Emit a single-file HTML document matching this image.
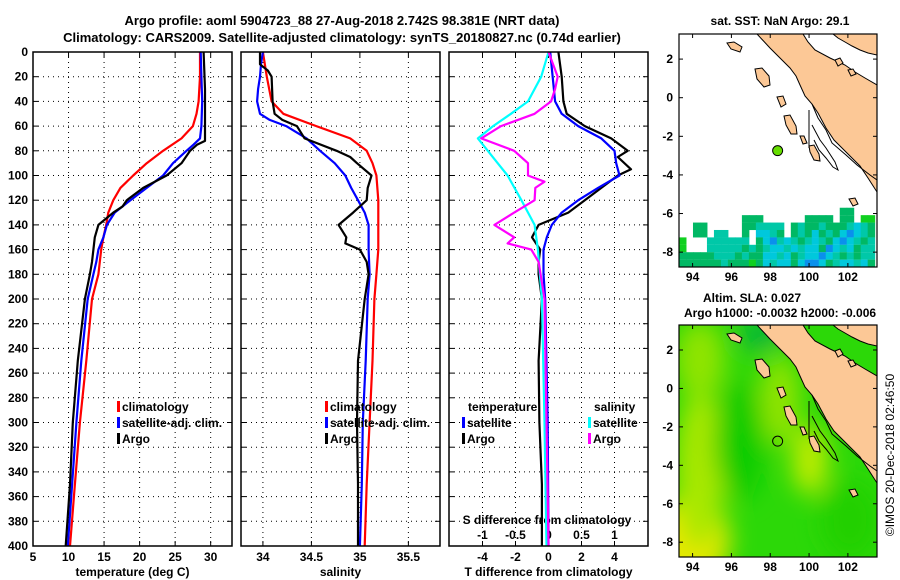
<!DOCTYPE html>
<html><head><meta charset="utf-8">
<style>
html,body{margin:0;padding:0;background:#fff;}
svg{display:block;font-family:"Liberation Sans",Arial,sans-serif;font-weight:bold;}
text{font-size:12px;fill:#000;}
</style></head>
<body>
<svg id="chart" width="900" height="580" viewBox="0 0 900 580" xmlns="http://www.w3.org/2000/svg">
<text x="342" y="25" text-anchor="middle" style="font-size:13px">Argo profile: aoml 5904723_88 27-Aug-2018 2.742S 98.381E (NRT data)</text>
<text x="342" y="42" text-anchor="middle" style="font-size:13px">Climatology: CARS2009. Satellite-adjusted climatology: synTS_20180827.nc (0.74d earlier)</text>
<g id="panels"></g>
<g id="maps"></g>
<text transform="translate(894,455) rotate(-90)" text-anchor="middle" style="font-weight:normal;font-size:12px">©IMOS 20-Dec-2018 02:46:50</text>
</svg>
<script>
// ---------- data ----------
const depthTicks = [0,20,40,60,80,100,120,140,160,180,200,220,240,260,280,300,320,340,360,380,400];
const tempTicks = [5,10,15,20,25,30];
const salTicks = [34,34.5,35,35.5];
const salTickLabels = ["34","34.5","35","35.5"];
const tdiffTicks = [-4,-2,0,2,4];
const sdiffTicks = [-1,-0.5,0,0.5,1];
const sdiffTickLabels = ["-1","-0.5","0","0.5","1"];

const tClimDepth = [0,20,40,50,60,70,80,90,100,110,120,130,140,150,160,180,200,250,300,350,400];
const tClimVal   = [28.5,28.5,28.3,28.0,27.5,25.9,23.3,21.0,19.1,17.3,16.3,15.6,15.3,14.9,14.6,14.2,13.3,12.5,11.6,10.9,10.2];
const tSatDepth = [0,20,40,60,70,75,80,90,100,110,120,130,140,150,160,170,180,200,250,300,350,400];
const tSatVal   = [28.6,28.7,28.8,28.7,28.5,27.6,26.6,24.7,23.3,21.0,18.7,16.5,15.4,14.9,14.2,13.9,13.5,12.7,11.8,11.1,10.5,9.9];
const tArgoDepth = [0,30,60,72,75,80,90,100,110,120,125,130,140,150,160,170,180,200,250,300,350,400];
const tArgoVal   = [29.0,29.2,29.2,29.2,28.1,27.1,25.9,23.8,20.5,18.2,17.6,16.3,14.2,13.7,13.5,13.3,13.0,12.3,11.3,10.6,10.2,9.6];

const sClimDepth = [0,20,40,50,60,70,80,90,100,120,140,160,180,200,250,300,350,400];
const sClimVal   = [34.0,34.04,34.09,34.21,34.55,34.9,35.07,35.13,35.17,35.19,35.19,35.19,35.17,35.15,35.13,35.1,35.07,35.05];
const sSatDepth = [0,10,20,30,40,50,55,60,70,80,90,100,110,120,130,140,160,180,200,250,300,350,400];
const sSatVal   = [34.0,33.98,33.97,33.95,33.94,33.97,34.07,34.24,34.45,34.59,34.74,34.85,34.91,34.98,35.05,35.09,35.09,35.1,35.08,35.06,35.03,35.02,35.0];
const sArgoDepth = [0,10,15,20,40,50,55,60,70,80,85,90,100,110,120,130,140,150,155,160,170,180,200,250,300,350,400];
const sArgoVal   = [33.97,33.97,34.05,34.09,34.1,34.12,34.2,34.35,34.43,34.76,34.9,34.97,35.12,35.08,35.07,34.93,34.78,34.86,34.85,35.0,35.07,35.09,35.05,34.98,34.97,34.98,34.98];

const dTArgoDepth = [0,20,40,50,60,70,80,85,95,100,110,120,130,140,150,160,170,180,200,250,300,350,400];
const dTArgoVal   = [0.6,0.8,0.9,1.1,2.2,3.8,4.8,4.2,5.0,4.2,3.2,2.2,1.2,-0.6,-1.0,-0.5,-0.6,-0.6,-0.4,-0.6,-0.55,-0.4,-0.4];
const dTSatDepth = [0,40,50,60,70,80,90,100,110,120,130,140,150,160,180,200,300,400];
const dTSatVal   = [0.1,0.4,0.8,1.8,3.2,4.0,4.1,4.3,3.0,1.8,0.8,0.2,-0.1,-0.3,-0.3,-0.2,-0.05,0];
const dSSatDepth = [0,20,40,50,60,70,80,90,100,120,140,160,200,300,400];
const dSSatVal   = [0.0,-0.11,-0.31,-0.57,-0.84,-1.07,-0.92,-0.77,-0.62,-0.41,-0.21,-0.16,-0.1,-0.06,-0.03];
const dSArgoDepth = [0,20,30,40,50,60,70,80,90,100,105,110,120,130,140,150,155,160,170,200,300,400];
const dSArgoVal   = [0,0.14,0.1,0.04,-0.21,-0.72,-1.02,-0.52,-0.31,-0.31,-0.06,-0.2,-0.21,-0.52,-0.82,-0.52,-0.62,-0.26,-0.15,-0.06,-0.03,0];

const argoLon = [98.381];
const argoLat = [-2.742];
const lonTicks = [94,96,98,100,102];
const latTicks = [2,0,-2,-4,-6,-8];
const sstRows = [
".......................gg...",
".........ggg......gggg.gg.GG",
"..gg.....ggtttt.gtggtgggtctg",
"..gg.tt..g.cctg.gtgcgtgcbctg",
"G...tttttt.gcbtctgtctgcbctgt",
"G...tttttgtgtcctctccgbctcgtt",
"gggggtttgtggcctcgtccbctgtgtt",
"ggggggtgggGgctccgcbbcgtcctcg"
];

const NS="http://www.w3.org/2000/svg";
const P=document.getElementById('panels');
function el(tag,attrs,parent){const e=document.createElementNS(NS,tag);for(const k in attrs)e.setAttribute(k,attrs[k]);(parent||P).appendChild(e);return e;}

const Y0=52,Y1=546;
function yDepth(d){return Y0+(d/400)*(Y1-Y0);}
function makeX(x0,x1,v0,v1){return v=>x0+(v-v0)/(v1-v0)*(x1-x0);}

const panels=[
 {x0:33,x1:232,xs:makeX(33,232,5,33),ticks:tempTicks,labels:tempTicks.map(String),title:"temperature (deg C)",name:"temperature"},
 {x0:241,x1:440,xs:makeX(241,440,33.774,35.826),ticks:salTicks,labels:salTickLabels,title:"salinity",name:"salinity"},
 {x0:449,x1:648,xs:makeX(449,648,-6.03,6.03),ticks:tdiffTicks,labels:tdiffTicks.map(String),title:"T difference from climatology",name:"difference"}
];

function line(xs,depths,vals,color,name,g){
  const pts=depths.map((d,i)=>xs(vals[i]).toFixed(1)+","+yDepth(d).toFixed(1)).join(" ");
  const p=el('polyline',{points:pts,fill:"none",stroke:color,"stroke-width":2.2,"stroke-linejoin":"round"},g);
  
  
}

panels.forEach((pn,pi)=>{
  const g=el('g',{});
  
  
  el('rect',{x:pn.x0,y:Y0,width:pn.x1-pn.x0,height:Y1-Y0,fill:"#fff",stroke:"none"},g);
  depthTicks.forEach(d=>{
    if(d>0&&d<400){const gl=el('line',{x1:pn.x0,x2:pn.x1,y1:yDepth(d),y2:yDepth(d),stroke:"#000","stroke-width":1,"stroke-dasharray":"1,4"},g);
      }
    el('line',{x1:pn.x0,x2:pn.x0+5,y1:yDepth(d),y2:yDepth(d),stroke:"#000"},g);
    el('line',{x1:pn.x1-5,x2:pn.x1,y1:yDepth(d),y2:yDepth(d),stroke:"#000"},g);
    if(pi===0){const t=el('text',{x:28,y:yDepth(d)+4,"text-anchor":"end"},g);t.textContent=d;
      }
  });
  pn.ticks.forEach((v,i)=>{
    const x=pn.xs(v);
    if(x>pn.x0+1&&x<pn.x1-1){const gl=el('line',{x1:x,x2:x,y1:Y0,y2:Y1,stroke:"#000","stroke-width":1,"stroke-dasharray":"1,4"},g);
      }
    el('line',{x1:x,x2:x,y1:Y1-5,y2:Y1,stroke:"#000"},g);
    el('line',{x1:x,x2:x,y1:Y0,y2:Y0+5,stroke:"#000"},g);
    const t=el('text',{x:x,y:561,"text-anchor":"middle"},g);t.textContent=pn.labels[i];
    
  });
  const tt=el('text',{x:(pn.x0+pn.x1)/2,y:576,"text-anchor":"middle"},g);tt.textContent=pn.title;
  
  if(pi===0){
    line(pn.xs,tClimDepth,tClimVal,"#f00","climatology-temp-line",g);
    line(pn.xs,tSatDepth,tSatVal,"#00f","satellite-temp-line",g);
    line(pn.xs,tArgoDepth,tArgoVal,"#000","argo-temp-line",g);
  } else if(pi===1){
    line(pn.xs,sClimDepth,sClimVal,"#f00","climatology-sal-line",g);
    line(pn.xs,sSatDepth,sSatVal,"#00f","satellite-sal-line",g);
    line(pn.xs,sArgoDepth,sArgoVal,"#000","argo-sal-line",g);
  } else {
    const sx=makeX(449,648,-1.508,1.508);
    sdiffTicks.forEach((v,i)=>{const t=el('text',{x:sx(v),y:539,"text-anchor":"middle"},g);t.textContent=sdiffTickLabels[i];
      });
    const st=el('text',{x:547,y:524,"text-anchor":"middle"},g);st.textContent="S difference from climatology";
    
    line(pn.xs,dTArgoDepth,dTArgoVal,"#000","argo-tdiff-line",g);
    line(pn.xs,dTSatDepth,dTSatVal,"#00f","satellite-tdiff-line",g);
    line(sx,dSSatDepth,dSSatVal,"#0ff","satellite-sdiff-line",g);
    line(sx,dSArgoDepth,dSArgoVal,"#f0f","argo-sdiff-line",g);
  }
  el('rect',{x:pn.x0,y:Y0,width:pn.x1-pn.x0,height:Y1-Y0,fill:"none",stroke:"#000","stroke-width":1.5},g);
  function leg(x,y,color,label,name){
    if(color){el('rect',{x:x,y:y-10,width:3,height:11,fill:color},g);}
    const t=el('text',{x:x+(color?5:0),y:y},g);t.textContent=label;
    
  }
  if(pi<2){
    const lx=pi===0?117:325;
    leg(lx,411,"#f00","climatology","legend-climatology");
    leg(lx,427,"#00f","satellite-adj. clim.","legend-satellite");
    leg(lx,443,"#000","Argo","legend-argo");
  } else {
    leg(468,411,null,"temperature","legend-temperature-header");
    leg(462,427,"#00f","satellite","legend-t-satellite");
    leg(462,443,"#000","Argo","legend-t-argo");
    leg(594,411,null,"salinity","legend-salinity-header");
    leg(588,427,"#0ff","satellite","legend-s-satellite");
    leg(588,443,"#f0f","Argo","legend-s-argo");
  }
});

// ---------- maps ----------
const M=document.getElementById('maps');
const MX0=679,MX1=877,LON0=93.3,LON1=103.5;
function lonX(l){return MX0+(l-LON0)/(LON1-LON0)*(MX1-MX0);}
const maps=[{top:34,bot:267,name:"sst-map"},{top:325,bot:557,name:"sla-map"}];
function latY(m,lat){return m.top+(3.3-lat)/(3.3+8.77)*(m.bot-m.top);}

const coast="M757,34 L803,34 L808,42 L815,50 L830,58 L845,65 L855,72 L865,78 L877,85 L877,192 L868,178 L860,166 L850,156 L842,148 L834,140 L826,128 L818,113 L812,104 L805,96 L800,85 L796,76 L790,68 L781,59 L770,48 Z";
const malaysia="M833,34 L877,34 L877,55 L868,53 L860,50 L852,46 L845,42 L838,38 Z";
const islands=["M727,43 L734,42 L742,47 L740,52 L731,49 Z","M755,69 L762,68 L769,76 L770,85 L764,87 L757,79 Z","M777,97 L783,96 L786,104 L781,107 Z","M784,116 L790,115 L796,126 L797,134 L791,134 L786,125 Z","M800,136 L804,136 L807,143 L803,144 Z","M809,146 L814,145 L819,154 L820,161 L814,160 L810,152 Z","M849,199 L855,198 L858,204 L853,206 Z","M835,60 L840,58 L843,63 L838,66 Z","M848,70 L853,69 L856,74 L851,76 Z"];
const contour="M812,104 L818,118 L826,130 L832,143 L846,155 L857,165 L870,175 L877,180 M812,125 L820,140 L826,148 L835,162 L838,170 L833,167 L826,158 L819,150 L814,140";

maps.forEach((m,mi)=>{
  const g=document.createElementNS(NS,'g');M.appendChild(g);
  
  
  const dy=m.top-34;
  const clipId='clip'+mi;
  el('clipPath',{id:clipId},g).appendChild((()=>{const r=document.createElementNS(NS,'rect');r.setAttribute('x',MX0);r.setAttribute('y',m.top);r.setAttribute('width',MX1-MX0);r.setAttribute('height',m.bot-m.top);return r;})());
  const inner=el('g',{"clip-path":"url(#"+clipId+")"},g);
  if(mi===0){
    el('rect',{x:MX0,y:m.top,width:MX1-MX0,height:m.bot-m.top,fill:"#fff"},inner);
    const colors={g:"#00b864",t:"#00c8a8",c:"#00c8dc",b:"#0a90ec",G:"#10d020"};
    const cw=(lonX(LON0+0.36)-lonX(LON0));
    sstRows.forEach((row,r)=>{
      for(let c=0;c<row.length;c++){const ch=row[c];if(ch==='.')continue;
        const lat=-5.7-r*0.384;
        const cell=el('rect',{x:lonX(LON0+c*0.36),y:latY(m,lat),width:cw+0.5,height:cw+0.5,fill:colors[ch]},inner);
        
        
      }
    });
  } else {
    const defs=el('defs',{},inner);
    const f=el('filter',{id:'blur1',x:"-50%",y:"-50%",width:"200%",height:"200%"},defs);
    el('feGaussianBlur',{stdDeviation:12},f);
    el('rect',{x:MX0,y:m.top,width:MX1-MX0,height:m.bot-m.top,fill:"#2cd808"},inner);
    const bl=el('g',{filter:"url(#blur1)"},inner);
    el('ellipse',{cx:690,cy:540,rx:40,ry:45,fill:"#e8e800"},bl);
    el('ellipse',{cx:700,cy:470,rx:25,ry:80,fill:"#a8e800"},bl);
    el('ellipse',{cx:700,cy:360,rx:25,ry:40,fill:"#90e400"},bl);
    el('ellipse',{cx:780,cy:400,rx:20,ry:45,fill:"#90e400"},bl);
    el('ellipse',{cx:810,cy:460,rx:18,ry:35,fill:"#c0ec00"},bl);
    el('ellipse',{cx:760,cy:335,rx:22,ry:14,fill:"#00b040"},bl);
    el('ellipse',{cx:740,cy:440,rx:25,ry:60,fill:"#10cc00"},bl);
    el('ellipse',{cx:850,cy:520,rx:30,ry:40,fill:"#20d000"},bl);
  }
  const lg=el('g',{transform:"translate(0,"+dy+")"},inner);
  const land=el('path',{d:coast,fill:"#fcc896",stroke:"#000","stroke-width":1},lg);
  
  
  const ml=el('path',{d:malaysia,fill:"#fcc896",stroke:"#000","stroke-width":1},lg);
  
  
  islands.forEach(d=>el('path',{d:d,fill:"#fcc896",stroke:"#000","stroke-width":1},lg));
  el('path',{d:contour,fill:"none",stroke:"#000","stroke-width":1},lg);
  el('line',{x1:809,y1:110,x2:809,y2:148,stroke:"#000","stroke-width":1},lg);
  const dot=el('circle',{cx:lonX(argoLon[0]),cy:latY(m,argoLat[0]),r:5,fill:mi===0?"#66dd00":"none",stroke:"#000","stroke-width":1},inner);
  
  
  el('rect',{x:MX0,y:m.top,width:MX1-MX0,height:m.bot-m.top,fill:"none",stroke:"#000","stroke-width":1.2},g);
  latTicks.forEach(l=>{const y=latY(m,l);
    el('line',{x1:MX0,x2:MX0+4,y1:y,y2:y,stroke:"#000"},g);el('line',{x1:MX1-4,x2:MX1,y1:y,y2:y,stroke:"#000"},g);
    const t=el('text',{x:673,y:y+4,"text-anchor":"end"},g);t.textContent=l;
    });
  lonTicks.forEach(l=>{const x=lonX(l);
    el('line',{x1:x,x2:x,y1:m.bot-4,y2:m.bot,stroke:"#000"},g);el('line',{x1:x,x2:x,y1:m.top,y2:m.top+4,stroke:"#000"},g);
    const t=el('text',{x:x,y:m.bot+14,"text-anchor":"middle"},g);t.textContent=l;
    });
});
function mt(x,y,s,name){const t=el('text',{x:x,y:y,"text-anchor":"middle"},M);t.textContent=s;}
mt(780,25,"sat. SST: NaN Argo: 29.1","sst-map-title");
mt(752,302,"Altim. SLA: 0.027","sla-map-title");
mt(780,317,"Argo h1000: -0.0032 h2000: -0.006","argo-height-title");
</script>
</body></html>
